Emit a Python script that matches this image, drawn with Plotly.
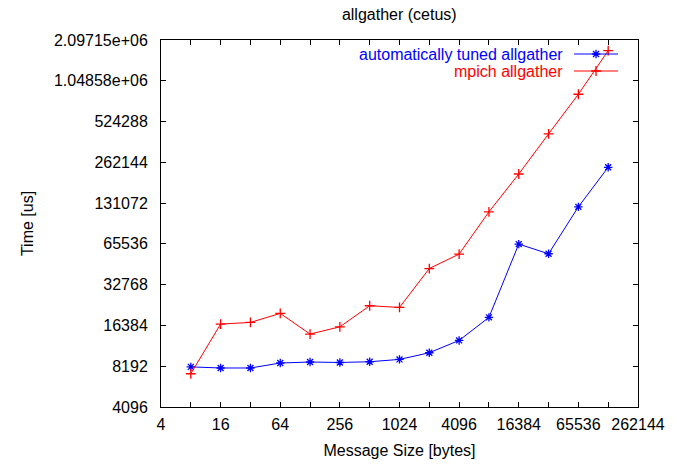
import math
import plotly.graph_objects as go

# ---- data ----
msg_sizes = [8, 16, 32, 64, 128, 256, 512, 1024, 2048, 4096, 8192, 16384, 32768, 65536, 131072]
tuned_us = [8100, 7950, 7950, 8650, 8800, 8730, 8840, 9200, 10300, 12700, 18800, 65300, 55400, 123000, 241000]
mpich_us = [7210, 16770, 17250, 20100, 14160, 16000, 22900, 22250, 43100, 55100, 113000, 215000, 425000, 834000, 1750000]

x_tick_vals = [4 * 2 ** k for k in range(17)]
x_tick_text = [str(v) if k % 2 == 0 else "" for k, v in enumerate(x_tick_vals)]
y_tick_vals = [4096 * 2 ** k for k in range(10)]
y_tick_text = ["4096", "8192", "16384", "32768", "65536", "131072", "262144", "524288", "1.04858e+06", "2.09715e+06"]

series_names = ["automatically tuned allgather", "mpich allgather"]
series_colors = ["#0000ff", "#ff0000"]
series_symbols = ["asterisk-open", "cross-thin-open"]
series_values = [tuned_us, mpich_us]

FONT = "Liberation Sans, Arial, sans-serif"
FS = 16

W, H = 691, 465
L, R, T, B = 160.5, 53, 40, 58

fig = go.Figure()
for name, vals, col, sym in zip(series_names, series_values, series_colors, series_symbols):
    fig.add_trace(go.Scatter(
        x=msg_sizes, y=vals, mode="lines+markers", name=name,
        line=dict(color=col, width=1),
        marker=dict(symbol=sym, size=7, color=col, line=dict(color=col, width=1.3)),
        showlegend=False, cliponaxis=False,
    ))

# manual gnuplot-style legend (text left, sample right)
pw = W - L - R
ph = H - T - B
legend_y_px = [54, 71]
for i, (name, col, sym) in enumerate(zip(series_names, series_colors, series_symbols)):
    yp = (H - B - legend_y_px[i]) / ph
    fig.add_annotation(x=(565 - L) / pw, y=yp, xref="paper", yref="paper",
                       text=name, showarrow=False, xanchor="right", yanchor="middle",
                       font=dict(family=FONT, size=FS, color=col))
    fig.add_trace(go.Scatter(
        x=[(574 - L) / pw, (596 - L) / pw, (618 - L) / pw], y=[yp, yp, yp],
        xaxis="x2", yaxis="y2", mode="lines+markers",
        line=dict(color=col, width=1),
        marker=dict(symbol=sym, size=7, color=col, line=dict(color=col, width=1.3),
                    opacity=[0, 1, 0]),
        showlegend=False, hoverinfo="skip",
    ))

fig.update_layout(
    width=W, height=H,
    margin=dict(l=L, r=R, t=T, b=B),
    paper_bgcolor="white", plot_bgcolor="white",
    font=dict(family=FONT, size=FS, color="black"),
    title=dict(text="allgather (cetus)", x=(L + pw / 2) / W, xanchor="center",
               y=1 - 14 / H, yanchor="middle", font=dict(family=FONT, size=FS)),
    showlegend=False,
    xaxis=dict(type="log", range=[math.log10(4), math.log10(262144)],
               tickvals=x_tick_vals, ticktext=x_tick_text, automargin=False,
               ticks="inside", ticklen=5, tickcolor="black", mirror="ticks",
               showline=True, linecolor="black", linewidth=1, showgrid=False, zeroline=False,
               ticklabelstandoff=3,
               title=dict(text="Message Size [bytes]", standoff=12, font=dict(family=FONT, size=FS)),
               tickfont=dict(family=FONT, size=FS)),
    yaxis=dict(type="log", range=[math.log10(4096), math.log10(2097152)],
               tickvals=y_tick_vals, ticktext=y_tick_text, automargin=False,
               ticks="inside", ticklen=5, tickcolor="black", mirror="ticks",
               showline=True, linecolor="black", linewidth=1, showgrid=False, zeroline=False,
               ticklabelstandoff=9,
               title=dict(text="Time [us]", standoff=16, font=dict(family=FONT, size=FS)),
               tickfont=dict(family=FONT, size=FS)),
    xaxis2=dict(range=[0, 1], overlaying="x", visible=False, fixedrange=True),
    yaxis2=dict(range=[0, 1], overlaying="y", visible=False, fixedrange=True),
)

fig.write_html("out.html")
